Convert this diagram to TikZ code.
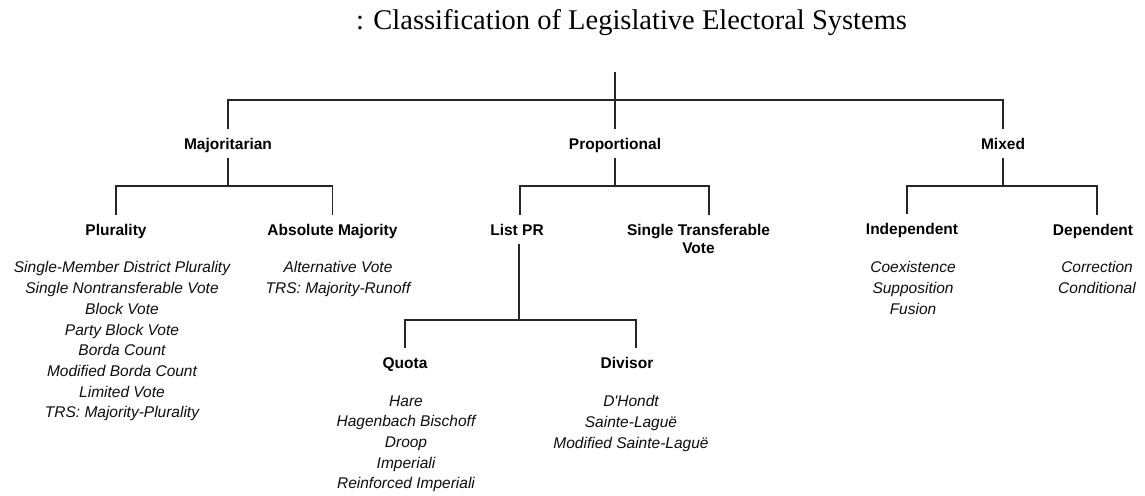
\documentclass[tikz,border=0pt]{standalone}
\usepackage{fontspec}
\usepackage{tikz}
\newfontfamily\headfont{Liberation Serif}
\newfontfamily\boxfont{Liberation Sans}

\begin{document}
\begin{tikzpicture}[x=1pt, y=-1pt,
    branch/.style={line width=1.8pt, color=black!85},
    category/.style={font=\boxfont\bfseries\fontsize{15.5}{18}\selectfont, text=black,
      inner sep=0pt, outer sep=0pt, text height=11pt, text depth=0pt, minimum height=29pt},
    examples/.style={font=\boxfont\itshape\fontsize{15.5}{20.7}\selectfont, text=black!95,
      align=center, anchor=north, inner sep=0pt}]
    \useasboundingbox (0,0) rectangle (1145,495);

    \node[font=\headfont\fontsize{28.5}{30}\selectfont, anchor=base] (title) at (631.5,29.5)
      {: Classification of Legislative Electoral Systems};

    \coordinate (root)    at (615,72);
    \coordinate (topbar)  at (615,100);
    \coordinate (majbar)  at (228,186);
    \coordinate (propbar) at (615,186);
    \coordinate (mixbar)  at (1003,186);
    \coordinate (lprbar)  at (519,320);

    \node[category] (maj)  at (228,143.5)  {Majoritarian};
    \node[category] (prop) at (615,143.5)  {Proportional};
    \node[category] (mix)  at (1003,143.5) {Mixed};

    \node[category] (plu) at (116,229.5)  {Plurality};
    \node[category] (abs) at (332.5,229.5) {Absolute Majority};
    \node[category] (lpr) at (517,229.5)  {List PR};
    \node[category] (stv) at (698.5,229.5)
      {\begin{tabular}[t]{@{}c@{}}Single Transferable\\Vote\end{tabular}};
    \node[category] (ind) at (912,228.5)  {Independent};
    \node[category] (dep) at (1093,229.5) {Dependent};

    \node[category] (quo) at (405,362.5) {Quota};
    \node[category] (div) at (627,362.5) {Divisor};

    \draw[branch] (root) -- (prop.north);
    \draw[branch] (maj.north) |- (topbar) -| (mix.north);

    \draw[branch] (maj.south) -- (majbar);
    \draw[branch] (plu.north) |- (majbar) -| (abs.north);
    \draw[branch] (prop.south) -- (propbar);
    \draw[branch] ([xshift=3pt]lpr.north) |- (propbar) -| ([xshift=10.5pt]stv.north);
    \draw[branch] (mix.south) -- (mixbar);
    \draw[branch] ([xshift=-5pt]ind.north) |- (mixbar) -| ([xshift=4pt]dep.north);

    \draw[branch] ([xshift=2pt]lpr.south) -- (lprbar);
    \draw[branch] (quo.north) |- (lprbar) -| ([xshift=9pt]div.north);

    \node[examples] (plulist) at (122,261.5) {Single-Member District Plurality\\Single Nontransferable Vote\\Block Vote\\Party Block Vote\\Borda Count\\Modified Borda Count\\Limited Vote\\TRS: Majority-Plurality};
    \node[examples] (abslist) at (338,261.5) {Alternative Vote\\TRS: Majority-Runoff};
    \node[examples] (indlist) at (913,261.5) {Coexistence\\Supposition\\Fusion};
    \node[examples] (deplist) at (1097,261.5) {Correction\\Conditional};
    \node[examples] (quolist) at (406,395.3) {Hare\\Hagenbach Bischoff\\Droop\\Imperiali\\Reinforced Imperiali};
    \node[examples] (divlist) at (631,395.3) {D'Hondt\\Sainte-Laguë\\Modified Sainte-Laguë};
\end{tikzpicture}
\end{document}
